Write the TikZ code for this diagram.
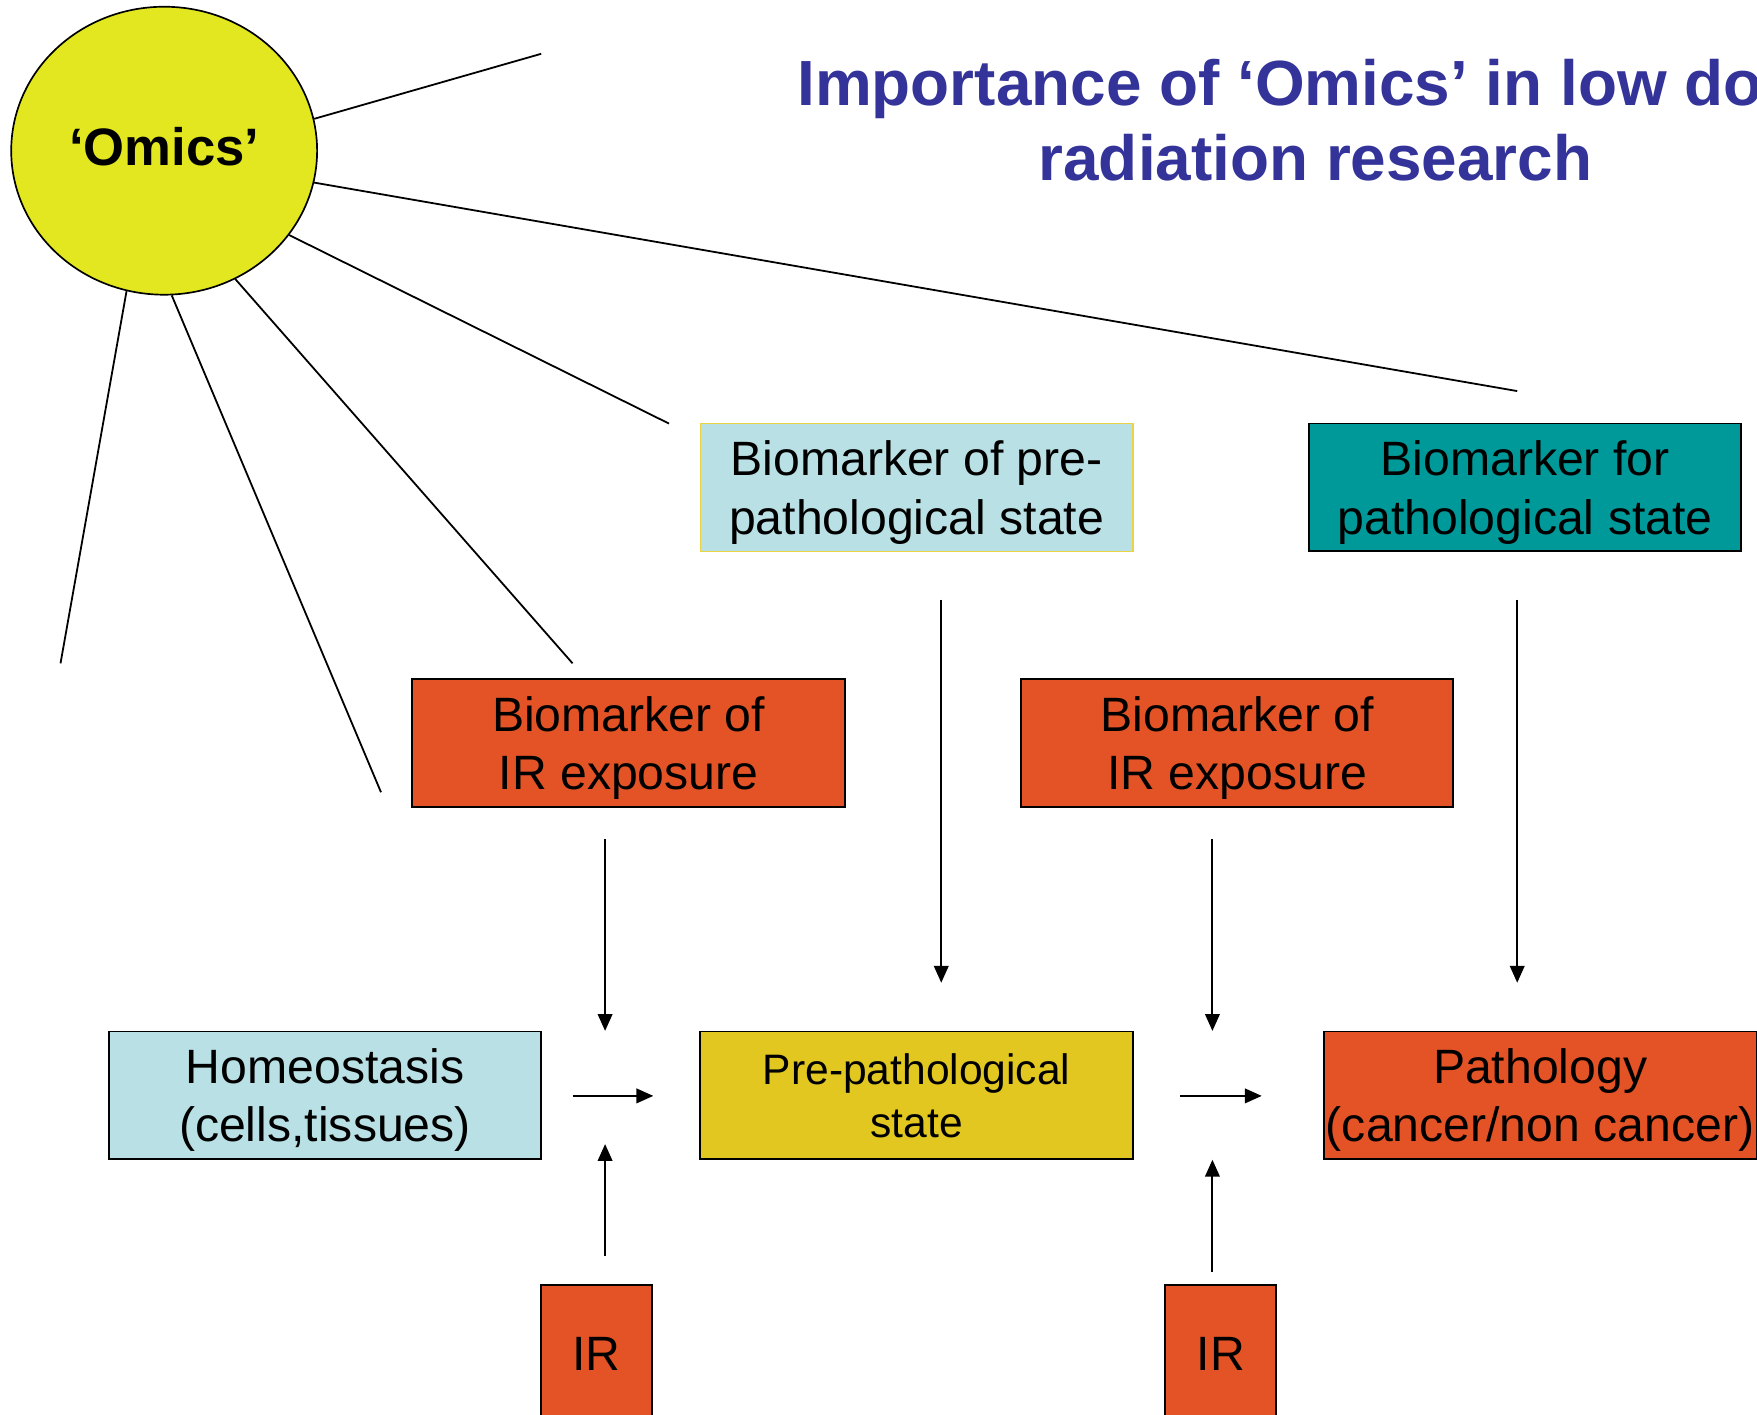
\documentclass[tikz,border=0pt]{standalone}
\usepackage{fontspec}
\setmainfont{Liberation Sans}
\usetikzlibrary{shapes.geometric,arrows.meta}
\definecolor{omicsyellow}{RGB}{227,231,31}
\definecolor{lightblue}{RGB}{185,224,228}
\definecolor{tealbox}{RGB}{0,153,153}
\definecolor{orangered}{RGB}{227,83,38}
\definecolor{goldbox}{RGB}{225,199,32}
\definecolor{titleblue}{RGB}{51,51,153}
\definecolor{goldline}{RGB}{232,212,70}
\begin{document}
\begin{tikzpicture}[x=1pt,y=-1pt,
  box/.style={draw=black,line width=1.6pt,minimum width=386pt,minimum height=114pt,inner sep=0pt,align=center,text depth=-1pt,font=\fontsize{43}{52}\selectfont},
  irbox/.style={draw=black,line width=1.6pt,minimum width=99pt,minimum height=122pt,inner sep=0pt,fill=orangered,font=\fontsize{43}{52}\selectfont},
  conn/.style={line width=1.6pt},
  arr/.style={line width=1.7pt,-{Triangle[length=15pt,width=13pt]}},
]
\clip (0,0) rectangle (1568,1262);
\fill[white] (0,0) rectangle (1568,1262);

% title
\node[align=center,text=titleblue,inner sep=0pt,font=\fontsize{57}{67}\selectfont\bfseries] (title) at (1174,107) {Importance of ‘Omics’ in low dose\\radiation research};

% omics circle
\node[ellipse,draw=black,line width=1.5pt,fill=omicsyellow,minimum width=273pt,minimum height=257pt,inner sep=0pt,text depth=8pt,font=\fontsize{47}{56}\selectfont\bfseries] (omics) at (146.5,134.5) {‘Omics’};

% boxes
\node[box,fill=lightblue,draw=goldline,line width=1.2pt] (bpre) at (818,435) {Biomarker of pre-\\pathological state};
\node[box,fill=tealbox] (bpath) at (1361,435) {Biomarker for\\pathological state};
\node[box,fill=orangered] (bir1) at (561,663) {Biomarker of\\IR exposure};
\node[box,fill=orangered] (bir2) at (1104,663) {Biomarker of\\IR exposure};
\node[box,fill=lightblue] (homeo) at (290,977.5) {Homeostasis\\(cells,tissues)};
\node[box,fill=goldbox,text depth=0pt,font=\fontsize{38}{47}\selectfont] (prepath) at (818,977.5) {Pre-pathological\\state};
\node[box,fill=orangered] (path) at (1374.5,977.5) {Pathology\\(cancer/non cancer)};
\node[irbox] (ir1) at (532.5,1208) {IR};
\node[irbox] (ir2) at (1089.5,1208) {IR};

% free ends of the omics rays
\coordinate (e1) at (483,48);
\coordinate (e2) at (1354,349);
\coordinate (e3) at (597,378);
\coordinate (e4) at (511,592);
\coordinate (e5) at (340,707);
\coordinate (e6) at (54,592);
\draw[conn] (omics.12) -- (e1);
\draw[conn] (omics.-12) -- (e2);
\draw[conn] (omics.-34) -- (e3);
\draw[conn] (omics.-61) -- (e4);
\draw[conn] (omics.-87) -- (e5);
\draw[conn] (omics.-105) -- (e6);

% arrows
\coordinate (a1s) at (540,749);  \coordinate (a1e) at (540,920);
\coordinate (a2s) at (840,535);  \coordinate (a2e) at (840,877);
\coordinate (a3s) at (1082,749); \coordinate (a3e) at (1082,920);
\coordinate (a4s) at (1354,535); \coordinate (a4e) at (1354,877);
\coordinate (h1s) at (511,978);  \coordinate (h1e) at (583,978);
\coordinate (h2s) at (1053,978); \coordinate (h2e) at (1126,978);
\coordinate (u1s) at (540,1121); \coordinate (u1e) at (540,1021);
\coordinate (u2s) at (1082,1135); \coordinate (u2e) at (1082,1035);
\draw[arr] (a1s) -- (a1e);
\draw[arr] (a2s) -- (a2e);
\draw[arr] (a3s) -- (a3e);
\draw[arr] (a4s) -- (a4e);
\draw[arr] (h1s) -- (h1e);
\draw[arr] (h2s) -- (h2e);
\draw[arr] (u1s) -- (u1e);
\draw[arr] (u2s) -- (u2e);
\end{tikzpicture}
\end{document}
